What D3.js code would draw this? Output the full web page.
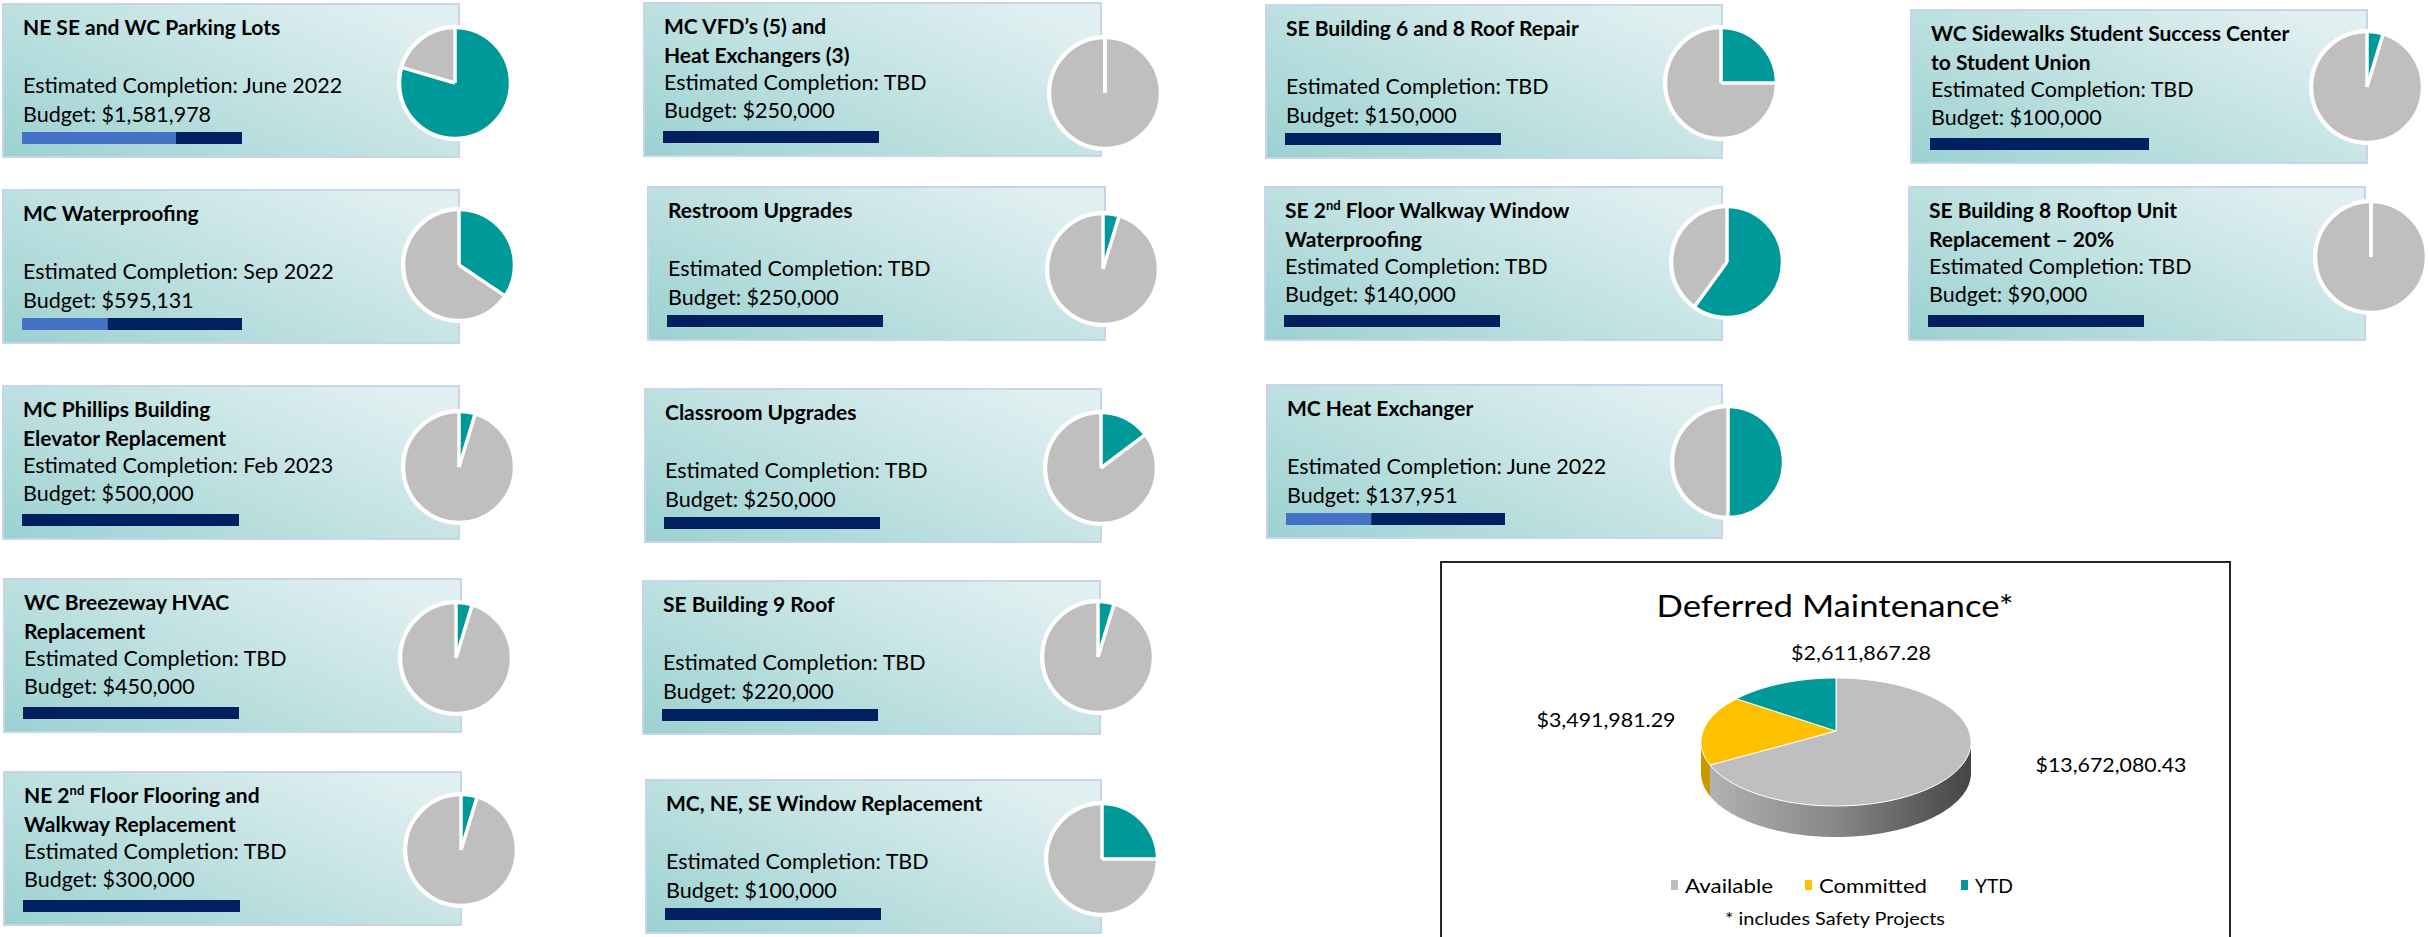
<!DOCTYPE html>
<html><head><meta charset="utf-8">
<script src="https://cdn.jsdelivr.net/npm/d3@7"></script>
<style>html,body{margin:0;padding:0;background:#fff;} svg{display:block;}</style>
</head><body>
<svg id="chart" width="2428" height="937"></svg>
<script>
// ---------------- DATA ----------------
// project titles (lines; {xx} marks superscript)
const projectTitles = [
  ["NE SE and WC Parking Lots"],
  ["MC Waterproofing"],
  ["MC Phillips Building", "Elevator Replacement"],
  ["WC Breezeway HVAC", "Replacement"],
  ["NE 2{nd} Floor Flooring and", "Walkway Replacement"],
  ["MC VFD\u2019s (5) and", "Heat Exchangers (3)"],
  ["Restroom Upgrades"],
  ["Classroom Upgrades"],
  ["SE Building 9 Roof"],
  ["MC, NE, SE Window Replacement"],
  ["SE Building 6 and 8 Roof Repair"],
  ["SE 2{nd} Floor Walkway Window", "Waterproofing"],
  ["MC Heat Exchanger"],
  ["WC Sidewalks Student Success Center", "to Student Union"],
  ["SE Building 8 Rooftop Unit", "Replacement \u2013 20%"]
];
const completion = ["June 2022", "Sep 2022", "Feb 2023", "TBD", "TBD",
  "TBD", "TBD", "TBD", "TBD", "TBD",
  "TBD", "TBD", "June 2022",
  "TBD", "TBD"];
const budgets = [1581978, 595131, 500000, 450000, 300000,
  250000, 250000, 250000, 220000, 100000,
  150000, 140000, 137951,
  100000, 90000];
// share of budget spent YTD (pie, teal)
const ytdShare = [0.795, 0.344, 0.047, 0.047, 0.047,
  0, 0.047, 0.147, 0.047, 0.25,
  0.25, 0.60, 0.50,
  0.047, 0];
// progress shown on the budget bar (light blue)
const barProgress = [0.70, 0.39, 0, 0, 0,
  0, 0, 0, 0, 0,
  0, 0, 0.39,
  0, 0];

// Deferred maintenance summary
const deferredTitle = "Deferred Maintenance*";
const deferredCategories = ["Available", "Committed", "YTD"];
const deferredValues = [13672080.43, 3491981.29, 2611867.28];
const deferredNote = "* includes Safety Projects";

// ---------------- LAYOUT (positions only) ----------------
const cardX = [3, 3, 3, 4, 4, 644, 648, 645, 643, 646, 1266, 1265, 1267, 1911, 1909];
const cardR = [459, 459, 459, 461, 461, 1101, 1105, 1101, 1100, 1101, 1722, 1722, 1722, 2367, 2365];
const cardY = [4, 190, 386, 579, 772, 3, 187, 389, 581, 780, 5, 187, 385, 10, 187];
const pieCX = [455, 459, 459, 456, 461, 1105, 1103, 1101, 1098, 1102, 1721, 1727, 1728, 2367, 2371];
const pieCY = [83, 265, 467, 658, 850, 93, 269, 468, 657, 859, 83, 262, 462, 87, 257];
const barW = [220, 220, 217, 216, 217, 216, 216, 216, 216, 216, 216, 216, 219, 219, 216];
const CARD_H = 153, PIE_R = 55;
const FONT = "Lato, 'Open Sans', sans-serif";

const C = {teal: "#009999", gray: "#bfbfbf", navy: "#002060", blue: "#4472c4", gold: "#ffc000"};

const svg = d3.select("#chart");
const defs = svg.append("defs");
const grad = defs.append("linearGradient").attr("id", "cardGrad")
  .attr("x1", 0).attr("y1", 1).attr("x2", 1).attr("y2", 0.25);
grad.append("stop").attr("offset", 0).attr("stop-color", "#9bd1d1");
grad.append("stop").attr("offset", 0.45).attr("stop-color", "#bbdfdf");
grad.append("stop").attr("offset", 1).attr("stop-color", "#e0eff0");

const fmtBudget = d3.format("$,");
const pieGen = d3.pie().sort(null).value(d => d);
const arcGen = d3.arc().innerRadius(0).outerRadius(PIE_R);

function addRich(textSel, str, supSize) {
  const parts = str.split(/\{(.*?)\}/);
  parts.forEach((p, i) => {
    if (!p) return;
    if (i % 2 === 1) {
      textSel.append("tspan").attr("baseline-shift", "super").attr("font-size", supSize).text(p);
    } else {
      textSel.append("tspan").text(p);
    }
  });
}

const cards = svg.append("g").selectAll("g.card").data(d3.range(projectTitles.length)).join("g").attr("class", "card");

cards.each(function (i) {
  const g = d3.select(this);
  const x0 = cardX[i], y0 = cardY[i], w = cardR[i] - x0;
  g.append("rect").attr("x", x0).attr("y", y0).attr("width", w).attr("height", CARD_H)
    .attr("fill", "url(#cardGrad)").attr("stroke", "#c8d3ec").attr("stroke-width", 2);

  const tx = x0 + 20;
  const lines = projectTitles[i];
  lines.forEach((ln, k) => {
    const t = g.append("text").attr("x", tx).attr("y", y0 + 31 + k * 29)
      .attr("font-family", FONT).attr("font-weight", 700)
      .attr("font-size", 21).attr("fill", "#000");
    addRich(t, ln, 13);
  });
  const two = lines.length > 1;
  g.append("text").attr("x", tx).attr("y", y0 + (two ? 87 : 89))
    .attr("font-family", FONT).attr("font-size", 21.5).attr("fill", "#000")
    .text("Estimated Completion: " + completion[i]);
  g.append("text").attr("x", tx).attr("y", y0 + (two ? 115 : 118))
    .attr("font-family", FONT).attr("font-size", 21.5).attr("fill", "#000")
    .text("Budget: " + fmtBudget(budgets[i]));

  // budget bar
  const bx = d3.scaleLinear().domain([0, 1]).range([x0 + 19, x0 + 19 + barW[i]]);
  const by = y0 + 128;
  g.append("rect").attr("x", bx(0)).attr("y", by).attr("width", bx(1) - bx(0)).attr("height", 12).attr("fill", C.navy);
  g.append("rect").attr("x", bx(0)).attr("y", by).attr("width", bx(barProgress[i]) - bx(0)).attr("height", 12).attr("fill", C.blue);

  // pie
  const pg = g.append("g").attr("transform", `translate(${pieCX[i]},${pieCY[i]})`);
  const arcs = pieGen([ytdShare[i], 1 - ytdShare[i]]);
  pg.append("circle").attr("r", PIE_R + 3).attr("fill", "#fff");
  pg.selectAll("path.slice").data(arcs).join("path").attr("class", "slice")
    .attr("d", arcGen).attr("fill", (d, j) => j === 0 ? C.teal : C.gray);
  pg.selectAll("line.sep").data(arcs).join("line").attr("class", "sep")
    .attr("x1", 0).attr("y1", 0)
    .attr("x2", d => PIE_R * Math.sin(d.startAngle))
    .attr("y2", d => -PIE_R * Math.cos(d.startAngle))
    .attr("stroke", "#fff").attr("stroke-width", 3.5);
  pg.append("circle").attr("r", PIE_R + 0.5).attr("fill", "none").attr("stroke", "#fff").attr("stroke-width", 3.5);
});

// ---------------- Deferred maintenance 3D pie ----------------
const D = {boxX: 1441, boxY: 562, boxW: 789, boxH: 420,
  cx: 1836, cy: 742, rx: 135, ry: 64, vdy: -11, depth: 31,
  titleX: 1835, titleY: 617, titleLen: 357};
const labelPos = [[2111, 772, 151], [1606, 727, 139], [1861, 660, 140]];
const legendX = [1671, 1805, 1961], legendLen = [88, 108, 38];
const deferredColors = [C.gray, C.gold, C.teal];
const sideColors = ["url(#sideGrad)", "#c99700", "#006b6b"];

const sg = defs.append("linearGradient").attr("id", "sideGrad")
  .attr("gradientUnits", "userSpaceOnUse").attr("x1", D.cx - D.rx).attr("x2", D.cx + D.rx).attr("y1", 0).attr("y2", 0);
sg.append("stop").attr("offset", 0).attr("stop-color", "#b4b4b4");
sg.append("stop").attr("offset", 0.5).attr("stop-color", "#878787");
sg.append("stop").attr("offset", 1).attr("stop-color", "#454545");

const dg = svg.append("g");
dg.append("rect").attr("x", D.boxX).attr("y", D.boxY).attr("width", D.boxW).attr("height", D.boxH)
  .attr("fill", "#fff").attr("stroke", "#262626").attr("stroke-width", 2);
dg.append("text").attr("x", D.titleX).attr("y", D.titleY).attr("text-anchor", "middle")
  .attr("font-family", FONT).attr("font-size", 31).attr("fill", "#000")
  .attr("textLength", D.titleLen).attr("lengthAdjust", "spacingAndGlyphs").text(deferredTitle);

const dArcs = pieGen(deferredValues);
const ex = a => D.cx + D.rx * Math.sin(a);
const ey = a => D.cy - D.ry * Math.cos(a);
const lineGen = d3.line();
function angSteps(a0, a1) {
  const n = Math.max(2, Math.ceil((a1 - a0) / 0.02));
  return d3.range(n + 1).map(k => a0 + (a1 - a0) * k / n);
}
// sides (front half only)
dArcs.forEach((d, j) => {
  const a0 = Math.max(d.startAngle, Math.PI / 2), a1 = Math.min(d.endAngle, 3 * Math.PI / 2);
  if (a1 <= a0) return;
  const top = angSteps(a0, a1).map(a => [ex(a), ey(a)]);
  const bot = top.slice().reverse().map(p => [p[0], p[1] + D.depth]);
  dg.append("path").attr("d", lineGen(top.concat(bot)) + "Z").attr("fill", sideColors[j]);
});
// top faces
dArcs.forEach((d, j) => {
  const pts = [[D.cx, D.cy + D.vdy]].concat(angSteps(d.startAngle, d.endAngle).map(a => [ex(a), ey(a)]));
  dg.append("path").attr("d", lineGen(pts) + "Z").attr("fill", deferredColors[j])
    .attr("stroke", "#fff").attr("stroke-width", 1).attr("stroke-linejoin", "round");
});
// value labels
const fmtMoney = d3.format("$,.2f");
dArcs.forEach((d, j) => {
  dg.append("text").attr("x", labelPos[j][0]).attr("y", labelPos[j][1]).attr("text-anchor", "middle")
    .attr("font-family", FONT).attr("font-size", 19).attr("fill", "#000")
    .attr("textLength", labelPos[j][2]).attr("lengthAdjust", "spacingAndGlyphs")
    .text(fmtMoney(d.data));
});
// legend
deferredCategories.forEach((c, j) => {
  dg.append("rect").attr("x", legendX[j]).attr("y", 880).attr("width", 7).attr("height", 10).attr("fill", deferredColors[j]);
  dg.append("text").attr("x", legendX[j] + 14).attr("y", 893)
    .attr("font-family", FONT).attr("font-size", 20).attr("fill", "#000")
    .attr("textLength", legendLen[j]).attr("lengthAdjust", "spacingAndGlyphs").text(c);
});
dg.append("text").attr("x", D.titleX).attr("y", 925).attr("text-anchor", "middle")
  .attr("font-family", FONT).attr("font-size", 17).attr("fill", "#000")
  .attr("textLength", 220).attr("lengthAdjust", "spacingAndGlyphs").text(deferredNote);
</script>
</body></html>
